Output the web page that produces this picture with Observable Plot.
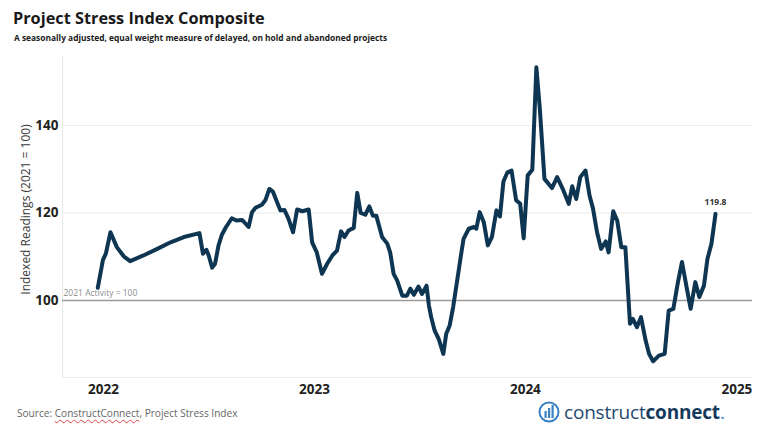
<!DOCTYPE html>
<html>
<head>
<meta charset="utf-8">
<script src="https://cdn.jsdelivr.net/npm/d3@7"></script>
<script src="https://cdn.jsdelivr.net/npm/@observablehq/plot@0.6"></script>
<style>
  html, body { margin: 0; padding: 0; background: #fff; }
  #wrap { position: relative; width: 768px; height: 434px; overflow: hidden; font-family: "Open Sans", sans-serif; }
  #title { position: absolute; left: 13px; top: 7px; font-size: 16.3px; font-weight: 700; color: #1a1a1a; line-height: 22px; white-space: nowrap; }
  #subtitle { position: absolute; left: 14px; top: 33px; font-size: 8.4px; font-weight: 700; color: #1a1a1a; line-height: 10px; white-space: nowrap; }
  #chart { position: absolute; left: 0; top: 48px; }
  #source { position: absolute; left: 17px; top: 406px; font-size: 10.1px; color: #666; line-height: 14px; white-space: nowrap; }
  #source .sq { text-decoration: underline wavy #d44; text-decoration-thickness: 1px; text-underline-offset: 2px; }
  #logo { position: absolute; left: 537px; top: 399px; height: 26px; display: flex; align-items: center; white-space: nowrap; }
  #logo .t1 { font-size: 19px; color: #1e4a72; font-weight: 400; letter-spacing: -0.2px; }
  #logo .t2 { font-size: 19px; color: #163a5c; font-weight: 700; letter-spacing: -0.2px; }
</style>
</head>
<body>
<div id="wrap">
  <div id="title">Project Stress Index Composite</div>
  <div id="subtitle">A seasonally adjusted, equal weight measure of delayed, on hold and abandoned projects</div>
  <div id="chart"></div>
  <div id="source">Source: <span class="sq">ConstructConnect</span>, Project Stress Index</div>
  <div id="logo">
    <svg width="24" height="24" viewBox="0 0 24 24" style="margin-right:3px">
      <circle cx="12" cy="12" r="9.5" fill="none" stroke="#3b82c4" stroke-width="2"/>
      <rect x="7.5" y="11" width="2.2" height="7" fill="#3b82c4"/>
      <rect x="11" y="8" width="2.2" height="10" fill="#3b82c4"/>
      <rect x="14.5" y="5" width="2.2" height="13" fill="#3b82c4"/>
    </svg>
    <span class="t1">construct</span><span class="t2">connect</span><span class="t1" style="color:#3b82c4">.</span>
  </div>
</div>
<script>
// ---- Data ----
const dates = [
  "2021-12-22","2021-12-31","2022-01-05","2022-01-13","2022-01-24","2022-02-05","2022-02-16","2022-03-11",
  "2022-04-04","2022-04-27","2022-05-20","2022-06-16","2022-06-22","2022-06-28","2022-07-02","2022-07-08",
  "2022-07-13","2022-07-19","2022-07-25","2022-08-01","2022-08-11","2022-08-19","2022-08-29","2022-09-09",
  "2022-09-15","2022-09-21","2022-10-02","2022-10-08","2022-10-15","2022-10-21","2022-11-03","2022-11-10",
  "2022-11-17","2022-11-25","2022-12-02","2022-12-11","2022-12-22","2022-12-28","2023-01-05","2023-01-14",
  "2023-01-23","2023-02-01","2023-02-09","2023-02-16","2023-02-22","2023-03-01","2023-03-10","2023-03-16",
  "2023-03-22","2023-03-30","2023-04-06","2023-04-12","2023-04-18","2023-04-28","2023-05-07","2023-05-12",
  "2023-05-18","2023-05-24","2023-06-02","2023-06-10","2023-06-16","2023-06-22","2023-06-30","2023-07-06",
  "2023-07-14","2023-07-18","2023-07-22","2023-07-28","2023-08-04","2023-08-12","2023-08-17","2023-08-23",
  "2023-08-29","2023-09-05","2023-09-11","2023-09-16","2023-09-25","2023-10-04","2023-10-08","2023-10-14",
  "2023-10-21","2023-10-28","2023-11-04","2023-11-12","2023-11-18","2023-11-24","2023-12-01","2023-12-08",
  "2023-12-16","2023-12-23","2023-12-29","2024-01-05","2024-01-13","2024-01-20","2024-01-26","2024-02-03",
  "2024-02-16","2024-02-25","2024-03-07","2024-03-16","2024-03-22","2024-03-29","2024-04-05","2024-04-14",
  "2024-04-21","2024-04-27","2024-05-04","2024-05-11","2024-05-19","2024-05-24","2024-06-01","2024-06-08",
  "2024-06-15","2024-06-22","2024-06-30","2024-07-05","2024-07-12","2024-07-19","2024-07-27","2024-08-02",
  "2024-08-09","2024-08-19","2024-08-29","2024-09-05","2024-09-13","2024-09-21","2024-09-28","2024-10-06",
  "2024-10-13","2024-10-21","2024-10-28","2024-11-05","2024-11-11","2024-11-18","2024-11-25"
];
const values = [
  102.9,109.3,110.7,115.6,112.2,110.1,109.0,110.3,
  111.8,113.3,114.5,115.4,110.7,111.6,110.3,107.5,
  108.4,112.6,115.1,116.8,118.8,118.3,118.4,116.8,
  120.2,121.2,121.9,122.9,125.5,124.9,120.6,120.7,
  118.7,115.6,120.8,120.4,120.8,113.3,111.0,106.1,
  108.4,110.3,111.4,115.8,114.5,116.0,116.6,124.6,
  120.0,119.6,121.5,119.4,119.4,114.5,113.0,111.0,
  106.1,104.6,101.1,101.1,102.7,101.3,103.2,101.5,
  103.4,98.9,96.2,93.1,91.2,87.8,92.4,94.3,
  98.5,104.6,109.9,114.1,116.4,116.8,116.4,120.2,
  117.9,112.6,114.5,120.6,119.2,127.2,129.3,129.7,
  122.9,122.1,114.2,128.6,129.9,153.3,143.8,127.8,
  125.7,128.2,125.1,122.1,126.1,123.2,128.2,129.7,
  124.0,121.0,115.6,111.8,113.5,111.0,120.4,118.2,
  112.2,112.2,94.7,95.8,93.9,96.2,90.9,87.8,
  86.1,87.4,87.8,97.7,98.1,104.2,108.8,103.0,
  98.1,104.2,100.8,103.4,109.5,113.0,119.8
];
const yTicks = [100, 120, 140];
const xTickLabels = ["2022", "2023", "2024", "2025"];
const baseline = 100;
const baselineLabel = "2021 Activity = 100";
const yTitle = "Indexed Readings (2021 = 100)";

// ---- Build table ----
const data = dates.map((d, i) => ({date: new Date(d + "T00:00:00Z"), value: values[i]}));
const last = data[data.length - 1];
const xDomain = [new Date("2021-10-22T00:00:00Z"), new Date("2025-01-28T00:00:00Z")];
const yDomain = [82.4, 156];
const xTicks = xTickLabels.map(y => new Date(y + "-01-01T00:00:00Z"));

const chart = Plot.plot({
  width: 768,
  height: 359,
  marginLeft: 62,
  marginRight: 16,
  marginTop: 7,
  marginBottom: 30,
  style: {fontFamily: "Open Sans, sans-serif", background: "transparent", overflow: "visible"},
  x: {type: "utc", domain: xDomain},
  y: {domain: yDomain},
  marks: [
    Plot.ruleY(yTicks.filter(t => t !== baseline), {stroke: "#ebebeb", strokeWidth: 1}),
    Plot.ruleX([xDomain[0]], {stroke: "#e8e8e8", strokeWidth: 1}),
    Plot.ruleY([yDomain[0]], {stroke: "#ececec", strokeWidth: 1}),
    Plot.ruleY([baseline], {stroke: "#9c9c9c", strokeWidth: 1.5}),
    Plot.text([baselineLabel], {frameAnchor: "left", y: baseline, text: d => d, textAnchor: "start", dx: 1, dy: -7, fontSize: 8.5, fill: "#8c8c8c"}),
    Plot.line(data, {x: "date", y: "value", stroke: "#0e3551", strokeWidth: 4, strokeLinejoin: "round", strokeLinecap: "round"}),
    Plot.text([last], {x: "date", y: "value", text: d => d.value.toFixed(1), dy: -12, fontSize: 8.5, fontWeight: "bold", fill: "#333"}),
    Plot.axisX({ticks: xTicks, tickFormat: (d, i) => xTickLabels[i], tickSize: 0, tickPadding: 7, fontSize: 13.5, fontWeight: "bold", color: "#222", label: null}),
    Plot.axisY({ticks: yTicks, tickSize: 0, tickPadding: 4, fontSize: 13.5, fontWeight: "bold", color: "#222", label: null}),
    Plot.text([yTitle], {frameAnchor: "left", textAnchor: "middle", text: d => d, rotate: -90, dx: -36, y: 120.8, fontSize: 12, fill: "#3a3a3a"})
  ]
});
document.getElementById("chart").appendChild(chart);
</script>
</body>
</html>
